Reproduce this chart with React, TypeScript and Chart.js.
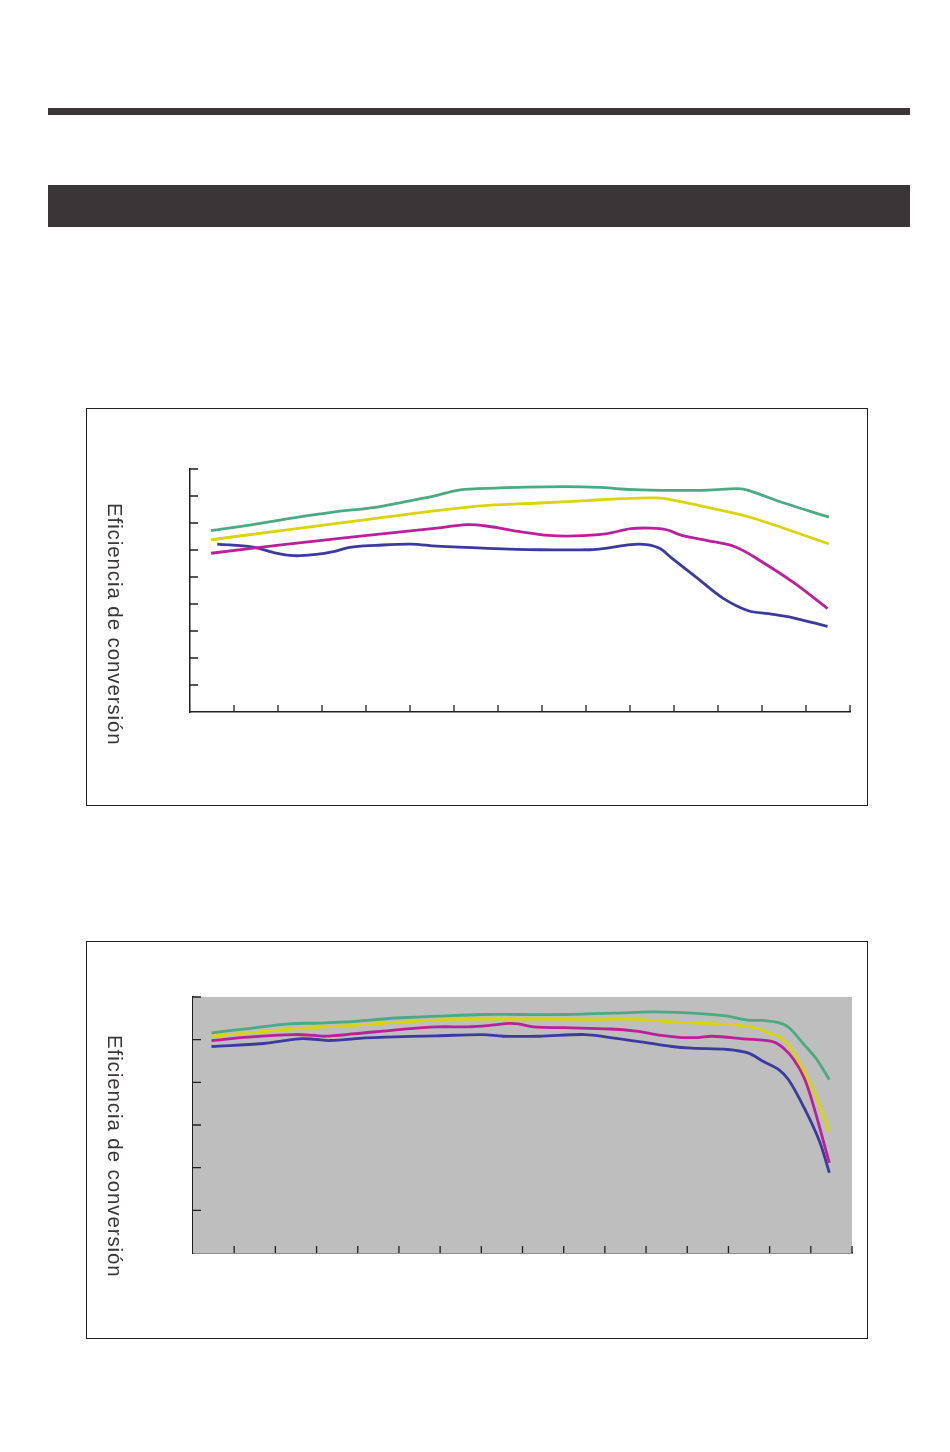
import React, { useEffect, useRef } from 'react'
import Chart, { ChartConfiguration, Plugin } from 'chart.js/auto'

type Pt = { x: number; y: number }

// Chart 1 (arbitrary units)
const top1Green: Pt[] = [
  { x: 0.48, y: 6.72 }, { x: 1.43, y: 6.94 }, { x: 2.36, y: 7.19 }, { x: 3.29, y: 7.41 },
  { x: 4.21, y: 7.58 }, { x: 5.03, y: 7.83 }, { x: 5.61, y: 8.02 }, { x: 6.07, y: 8.21 },
  { x: 6.54, y: 8.27 }, { x: 7.47, y: 8.32 }, { x: 8.51, y: 8.35 }, { x: 9.32, y: 8.32 },
  { x: 9.79, y: 8.26 }, { x: 10.25, y: 8.23 }, { x: 10.83, y: 8.21 }, { x: 11.76, y: 8.22 },
  { x: 12.46, y: 8.27 }, { x: 12.69, y: 8.21 }, { x: 13.5, y: 7.74 }, { x: 14.52, y: 7.22 }
]
const top1Yellow: Pt[] = [
  { x: 0.48, y: 6.38 }, { x: 2.12, y: 6.73 }, { x: 3.87, y: 7.1 }, { x: 5.61, y: 7.46 },
  { x: 6.77, y: 7.65 }, { x: 8.05, y: 7.75 }, { x: 9.09, y: 7.84 }, { x: 10.02, y: 7.91 },
  { x: 10.6, y: 7.93 }, { x: 10.95, y: 7.86 }, { x: 12.46, y: 7.33 }, { x: 12.92, y: 7.12 },
  { x: 14.52, y: 6.23 }
]
const top1Magenta: Pt[] = [
  { x: 0.48, y: 5.88 }, { x: 2.12, y: 6.2 }, { x: 3.87, y: 6.51 }, { x: 5.61, y: 6.81 },
  { x: 6.3, y: 6.94 }, { x: 6.77, y: 6.88 }, { x: 7.47, y: 6.69 }, { x: 8.16, y: 6.54 },
  { x: 8.74, y: 6.52 }, { x: 9.44, y: 6.6 }, { x: 10.02, y: 6.79 }, { x: 10.48, y: 6.81 },
  { x: 10.83, y: 6.75 }, { x: 11.18, y: 6.54 }, { x: 11.76, y: 6.35 }, { x: 12.4, y: 6.11 },
  { x: 13.04, y: 5.52 }, { x: 13.73, y: 4.78 }, { x: 14.49, y: 3.83 }
]
const top1Blue: Pt[] = [
  { x: 0.62, y: 6.22 }, { x: 1.43, y: 6.11 }, { x: 1.89, y: 5.91 }, { x: 2.36, y: 5.79 },
  { x: 2.82, y: 5.83 }, { x: 3.29, y: 5.95 }, { x: 3.63, y: 6.1 }, { x: 4.21, y: 6.17 },
  { x: 5.03, y: 6.22 }, { x: 5.61, y: 6.14 }, { x: 6.77, y: 6.06 }, { x: 7.93, y: 6.01 },
  { x: 9.09, y: 6.01 }, { x: 9.44, y: 6.06 }, { x: 10.02, y: 6.2 }, { x: 10.37, y: 6.2 },
  { x: 10.66, y: 6.07 }, { x: 10.95, y: 5.7 }, { x: 11.53, y: 4.96 }, { x: 12.11, y: 4.22 },
  { x: 12.69, y: 3.75 }, { x: 13.15, y: 3.64 }, { x: 13.73, y: 3.48 }, { x: 14.49, y: 3.17 }
]

// Chart 2
const bot2Green: Pt[] = [
  { x: 0.45, y: 5.16 }, { x: 1.34, y: 5.26 }, { x: 2.33, y: 5.37 }, { x: 3.07, y: 5.39 },
  { x: 3.94, y: 5.43 }, { x: 4.68, y: 5.49 }, { x: 5.18, y: 5.52 }, { x: 5.92, y: 5.55 },
  { x: 7.03, y: 5.59 }, { x: 7.9, y: 5.59 }, { x: 9.02, y: 5.59 }, { x: 10.25, y: 5.62 },
  { x: 11.12, y: 5.65 }, { x: 11.74, y: 5.64 }, { x: 12.48, y: 5.6 }, { x: 12.98, y: 5.55 },
  { x: 13.47, y: 5.46 }, { x: 13.85, y: 5.45 }, { x: 14.22, y: 5.4 }, { x: 14.46, y: 5.29 },
  { x: 14.84, y: 4.88 }, { x: 15.15, y: 4.53 }, { x: 15.45, y: 4.06 }
]
const bot2Yellow: Pt[] = [
  { x: 0.45, y: 5.08 }, { x: 1.34, y: 5.16 }, { x: 2.45, y: 5.25 }, { x: 3.94, y: 5.34 },
  { x: 4.68, y: 5.39 }, { x: 5.92, y: 5.46 }, { x: 7.03, y: 5.48 }, { x: 8.4, y: 5.48 },
  { x: 9.63, y: 5.47 }, { x: 10.38, y: 5.48 }, { x: 10.87, y: 5.47 }, { x: 11.74, y: 5.41 },
  { x: 12.48, y: 5.38 }, { x: 13.23, y: 5.34 }, { x: 13.72, y: 5.26 }, { x: 13.97, y: 5.16 },
  { x: 14.22, y: 5.08 }, { x: 14.46, y: 4.88 }, { x: 14.71, y: 4.49 }, { x: 15.08, y: 3.79 },
  { x: 15.45, y: 2.85 }
]
const bot2Magenta: Pt[] = [
  { x: 0.45, y: 4.98 }, { x: 1.34, y: 5.06 }, { x: 2.45, y: 5.12 }, { x: 2.95, y: 5.1 },
  { x: 3.2, y: 5.08 }, { x: 3.94, y: 5.14 }, { x: 4.93, y: 5.23 }, { x: 5.92, y: 5.3 },
  { x: 6.66, y: 5.3 }, { x: 7.16, y: 5.33 }, { x: 7.65, y: 5.38 }, { x: 7.9, y: 5.37 },
  { x: 8.27, y: 5.3 }, { x: 9.02, y: 5.28 }, { x: 10.13, y: 5.25 }, { x: 10.75, y: 5.2 },
  { x: 11.37, y: 5.1 }, { x: 11.86, y: 5.05 }, { x: 12.24, y: 5.05 }, { x: 12.61, y: 5.08 },
  { x: 13.35, y: 5.02 }, { x: 14.09, y: 4.95 }, { x: 14.34, y: 4.8 }, { x: 14.59, y: 4.53 },
  { x: 14.84, y: 4.1 }, { x: 15.08, y: 3.4 }, { x: 15.45, y: 2.11 }
]
const bot2Blue: Pt[] = [
  { x: 0.45, y: 4.84 }, { x: 1.71, y: 4.91 }, { x: 2.58, y: 5.02 }, { x: 2.95, y: 5.01 },
  { x: 3.32, y: 4.98 }, { x: 4.19, y: 5.04 }, { x: 4.68, y: 5.06 }, { x: 5.92, y: 5.09 },
  { x: 7.03, y: 5.12 }, { x: 7.53, y: 5.08 }, { x: 8.4, y: 5.08 }, { x: 9.51, y: 5.12 },
  { x: 10.13, y: 5.05 }, { x: 10.87, y: 4.95 }, { x: 11.62, y: 4.84 }, { x: 12.11, y: 4.8 },
  { x: 12.98, y: 4.77 }, { x: 13.47, y: 4.69 }, { x: 13.85, y: 4.49 }, { x: 14.22, y: 4.3 },
  { x: 14.46, y: 4.06 }, { x: 14.84, y: 3.4 }, { x: 15.21, y: 2.62 }, { x: 15.45, y: 1.88 }
]

const GREEN = '#4caa82'
const YELLOW = '#d9d40b'
const MAGENTA = '#bb1f9a'
const BLUE = '#3c3aa0'
const AXIS = '#231f20'
const AXIS_TITLE = 'Eficiencia de conversión'

// short tick marks drawn inward from the axes, plus optional plot background
const innerTicks = (bg: string | null): Plugin<'line'> => ({
  id: 'innerTicks',
  beforeDatasetsDraw(chart) {
    const { ctx, chartArea: a } = chart
    if (bg) {
      ctx.save()
      ctx.fillStyle = bg
      ctx.fillRect(a.left, a.top, a.right - a.left, a.bottom - a.top)
      ctx.restore()
    }
  },
  afterDraw(chart) {
    const { ctx, chartArea: a, scales } = chart
    ctx.save()
    ctx.strokeStyle = AXIS
    ctx.lineWidth = 1.3
    ctx.beginPath()
    scales.x.ticks.forEach((t) => {
      if (t.value === scales.x.min) return
      const px = scales.x.getPixelForValue(t.value)
      ctx.moveTo(px, a.bottom)
      ctx.lineTo(px, a.bottom - 7)
    })
    scales.y.ticks.forEach((t) => {
      if (t.value === scales.y.min) return
      const py = scales.y.getPixelForValue(t.value)
      ctx.moveTo(a.left, py)
      ctx.lineTo(a.left + 8, py)
    })
    ctx.stroke()
    ctx.restore()
  }
})

interface PanelProps {
  top: number
  series: Pt[][]
  xMax: number
  yMax: number
  padding: { left: number; top: number; right: number; bottom: number }
  bg: string | null
  titleTop: number
}

const colors = [GREEN, YELLOW, MAGENTA, BLUE]

const Panel: React.FC<PanelProps> = ({ top, series, xMax, yMax, padding, bg, titleTop }) => {
  const chartRef = useRef<HTMLCanvasElement | null>(null)

  useEffect(() => {
    if (!chartRef.current) return
    const config: ChartConfiguration<'line', Pt[]> = {
      type: 'line',
      data: {
        datasets: series.map((s, i) => ({
          data: s,
          borderColor: colors[i],
          borderWidth: 2.8,
          pointRadius: 0,
          tension: 0.35,
          fill: false
        }))
      },
      options: {
        animation: false,
        responsive: true,
        maintainAspectRatio: false,
        layout: { padding },
        plugins: { legend: { display: false }, tooltip: { enabled: false } },
        scales: {
          x: {
            type: 'linear',
            min: 0,
            max: xMax,
            ticks: { display: false, stepSize: 1 },
            grid: { display: false },
            border: { display: true, color: AXIS, width: 1.5 },
            afterFit: (s) => {
              s.height = 0
            }
          },
          y: {
            type: 'linear',
            min: 0,
            max: yMax,
            ticks: { display: false, stepSize: 1 },
            grid: { display: false },
            border: { display: true, color: AXIS, width: 1.5 },
            afterFit: (s) => {
              s.width = 0
            }
          }
        }
      },
      plugins: [innerTicks(bg)]
    }
    const chart = new Chart(chartRef.current, config)
    return () => chart.destroy()
  }, [])

  return (
    <div
      style={{
        position: 'absolute',
        left: 86,
        top,
        width: 780,
        height: 396,
        border: '1px solid #231f20'
      }}
    >
      <canvas ref={chartRef} />
      <div
        style={{
          position: 'absolute',
          left: 16,
          top: titleTop,
          writingMode: 'vertical-rl',
          fontFamily: '"Liberation Sans", Arial, sans-serif',
          fontSize: 20.5,
          letterSpacing: 0.9,
          color: '#3a3536',
          whiteSpace: 'nowrap'
        }}
      >
        {AXIS_TITLE}
      </div>
    </div>
  )
}

export default function App() {
  return (
    <div style={{ position: 'absolute', left: 0, top: 0, width: 950, height: 1452, background: '#fff' }}>
      <div style={{ position: 'absolute', left: 48, top: 108, width: 862, height: 7, background: '#3a3536' }} />
      <div style={{ position: 'absolute', left: 48, top: 185, width: 862, height: 42, background: '#3a3536' }} />
      <Panel
        top={408}
        series={[top1Green, top1Yellow, top1Magenta, top1Blue]}
        xMax={15}
        yMax={9}
        padding={{ left: 103, top: 60, right: 17, bottom: 93 }}
        bg={null}
        titleTop={94}
      />
      <Panel
        top={941}
        series={[bot2Green, bot2Yellow, bot2Magenta, bot2Blue]}
        xMax={16}
        yMax={6}
        padding={{ left: 106, top: 55, right: 15, bottom: 85 }}
        bg="#bebebe"
        titleTop={93}
      />
    </div>
  )
}
